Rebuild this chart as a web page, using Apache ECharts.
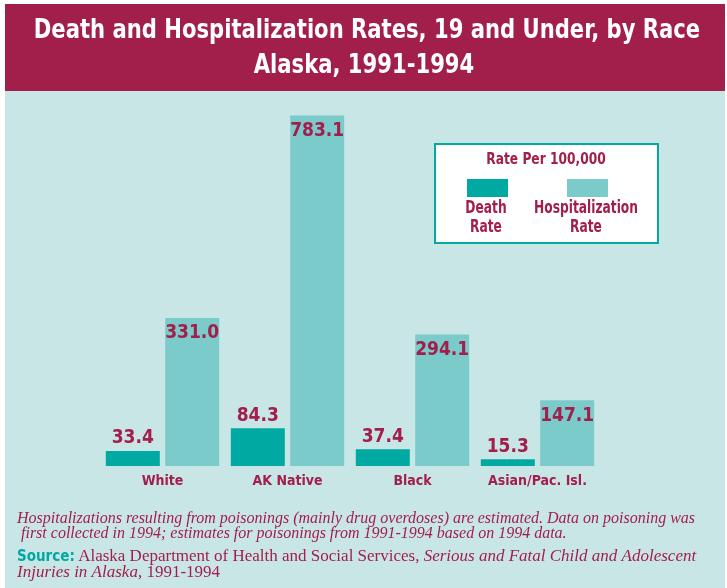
<!DOCTYPE html>
<html>
<head>
<meta charset="utf-8">
<script src="https://cdn.jsdelivr.net/npm/echarts@6/dist/echarts.min.js"></script>
<style>
  html, body { margin: 0; padding: 0; background: #fff; }
  #chart { width: 727px; height: 588px; }
</style>
</head>
<body>
<div id="chart"></div>
<script>
// data
var races = ["White", "AK Native", "Black", "Asian/Pac. Isl."];
var deathRate = [33.4, 84.3, 37.4, 15.3];
var hospRate = [331.0, 783.1, 294.1, 147.1];

var crimson = "#A21E4B";
var teal = "#00A9A1";
var lightTeal = "#7BCBCA";
var narrow = "'DejaVu Sans Condensed', 'Liberation Sans Narrow', sans-serif";
var serif = "'Liberation Serif', 'DejaVu Serif', serif";

var chart = echarts.init(document.getElementById("chart"));

var option = {
  backgroundColor: "#fff",
  animation: false,
  grid: {
    left: 100,
    width: 500,
    top: 108,
    bottom: 122,
  },
  xAxis: {
    type: "category",
    data: races,
    axisLine: { show: false },
    axisTick: { show: false },
    axisLabel: {
      interval: 0,
      color: crimson,
      fontFamily: narrow,
      fontWeight: "bold",
      fontSize: 14,
      margin: 8,
    },
  },
  yAxis: {
    type: "value",
    min: 0,
    max: 800,
    show: false,
    splitLine: { show: false },
  },
  graphic: [
    // background panel
    { type: "rect", z: -10, shape: { x: 5, y: 91, width: 720, height: 497 }, style: { fill: "#C9E6E6" } },
    // title band
    { type: "rect", z: -10, shape: { x: 5, y: 4, width: 720, height: 87 }, style: { fill: "#A21E4B" } },
    {
      type: "text", x: 367, y: 31, scaleX: 0.87,
      style: {
        text: "Death and Hospitalization Rates, 19 and Under, by Race",
        fill: "#fff", font: "bold 27px " + narrow, align: "center", verticalAlign: "middle",
      },
    },
    {
      type: "text", x: 364, y: 66, scaleX: 0.87,
      style: {
        text: "Alaska, 1991-1994",
        fill: "#fff", font: "bold 27px " + narrow, align: "center", verticalAlign: "middle",
      },
    },
    // legend box
    { type: "rect", shape: { x: 435, y: 144, width: 223, height: 99 }, style: { fill: "#fff", stroke: teal, lineWidth: 2 } },
    {
      type: "text", x: 546, y: 160, scaleX: 0.85,
      style: { text: "Rate Per 100,000", fill: crimson, font: "bold 16px " + narrow, align: "center", verticalAlign: "middle" },
    },
    { type: "rect", shape: { x: 467, y: 179, width: 41, height: 18 }, style: { fill: teal } },
    { type: "rect", shape: { x: 567, y: 179, width: 41, height: 18 }, style: { fill: lightTeal } },
    {
      type: "text", x: 486, y: 218, scaleX: 0.8,
      style: { text: "Death\nRate", fill: crimson, font: "bold 17px " + narrow, align: "center", verticalAlign: "middle", lineHeight: 19 },
    },
    {
      type: "text", x: 586, y: 218, scaleX: 0.8,
      style: { text: "Hospitalization\nRate", fill: crimson, font: "bold 17px " + narrow, align: "center", verticalAlign: "middle", lineHeight: 19 },
    },
    // footnote
    {
      type: "text", x: 17, y: 511,
      style: {
        text: "Hospitalizations resulting from poisonings (mainly drug overdoses) are estimated. Data on poisoning was\n first collected in 1994; estimates for poisonings from 1991-1994 based on 1994 data.",
        fill: crimson, font: "italic 16px " + serif, lineHeight: 15,
      },
    },
    {
      type: "text", x: 17, y: 549,
      style: {
        rich: {
          s: { fill: teal, font: "bold 15px " + narrow },
          n: { fill: crimson, font: "17px " + serif },
          i: { fill: crimson, font: "italic 17px " + serif },
        },
        text: "{s|Source:} {n|Alaska Department of Health and Social Services, }{i|Serious and Fatal Child and Adolescent}\n{i|Injuries in Alaska}{n|, 1991-1994}",
        lineHeight: 16,
      },
    },
  ],
  series: [
    {
      name: "Death Rate",
      type: "bar",
      data: deathRate,
      barWidth: 54,
      barGap: "10%",
      itemStyle: { color: teal },
      label: {
        show: true,
        position: "top",
        distance: 3,
        color: crimson,
        fontFamily: narrow,
        fontWeight: "bold",
        fontSize: 19,
        formatter: function (p) { return p.value.toFixed(1); },
      },
    },
    {
      name: "Hospitalization Rate",
      type: "bar",
      data: hospRate,
      barWidth: 54,
      itemStyle: { color: lightTeal },
      label: {
        show: true,
        position: "insideTop",
        distance: 6,
        color: crimson,
        fontFamily: narrow,
        fontWeight: "bold",
        fontSize: 19,
        formatter: function (p) { return p.value.toFixed(1); },
      },
    },
  ],
};

chart.setOption(option);
</script>
</body>
</html>
